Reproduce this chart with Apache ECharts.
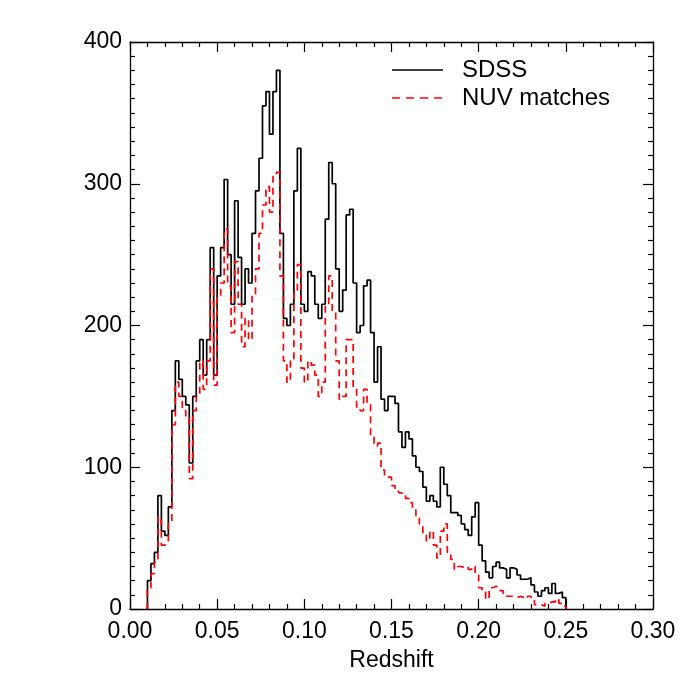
<!DOCTYPE html>
<html>
<head>
<meta charset="utf-8">
<script src="https://cdn.jsdelivr.net/npm/echarts@6/dist/echarts.min.js"></script>
<style>
html,body{margin:0;padding:0;background:#fff;}
#chart{width:692px;height:692px;}
</style>
</head>
<body>
<div id="chart"></div>
<script>
// Histogram bins (redshift), bin width 0.002 starting at z = 0.010
const binStart = 0.010;
const binWidth = 0.002;

// SDSS counts per bin
const sdssCounts = [
  20, 32, 40, 80, 55, 52, 72, 140, 175, 162,
  150, 144, 103, 150, 175, 190, 165, 190, 255, 165,
  235, 255, 303, 250, 215, 288, 248, 215, 240, 230,
  265, 295, 318, 355, 365, 335, 365, 380, 265, 205,
  200, 215, 295, 325, 215,
  210, 238, 235, 215, 205, 215, 275, 315, 300, 240,
  210, 225, 278, 282, 230, 195, 200, 228, 232, 195,
  160, 185, 148, 140, 150, 150, 145, 125, 114, 125,
  120, 108, 100, 97, 86, 76, 80, 76, 72, 100,
  88, 80, 68, 68, 66, 60, 56, 52, 65, 75,
  45, 34, 26, 22, 30, 33, 29, 28, 22, 29,
  28, 24, 21, 21, 22, 17, 12, 9, 13, 15,
  11, 18, 11, 12, 8
];

// NUV match counts per bin
const nuvCounts = [
  15, 25, 33, 65, 45, 46, 62, 130, 160, 150,
  140, 135, 92, 140, 150, 175, 155, 175, 240, 158,
  220, 230, 268, 228, 195, 245, 215, 185, 205, 190,
  222, 240, 265, 285, 298, 280, 305, 308, 235, 175,
  160, 175, 225, 243, 170,
  160, 175, 172, 165, 150, 160, 215, 235, 210, 175,
  148, 150, 190, 190, 155, 142, 140, 155, 145, 122,
  115, 117, 98, 93, 93, 87, 85, 82, 80, 78,
  75, 70, 66, 60, 52, 48, 55, 45, 36, 55,
  60, 40, 35, 28, 30, 29, 30, 28, 30, 24,
  15, 12, 7, 15, 16, 15, 13, 11, 9, 9,
  8, 9, 8, 7, 9, 6, 3, 3, 2, 4,
  5, 5, 7, 4, 2
];

const seriesNames = ['SDSS', 'NUV matches'];
const xTicks = [0, 0.30, 0.05];
const yTicks = [0, 400, 100];
const xTitle = 'Redshift';

function histPoints(counts) {
  const pts = [[binStart, 0]];
  counts.forEach((c, i) => {
    pts.push([+(binStart + i * binWidth).toFixed(4), c]);
  });
  const endEdge = +(binStart + counts.length * binWidth).toFixed(4);
  pts.push([endEdge, counts[counts.length - 1]]);
  pts.push([endEdge, 0]);
  return pts;
}

const FONT = 'Liberation Sans, Arial, Helvetica, sans-serif';
function axisStyle(minorSplit) {
  return {
    axisLine: { show: true, onZero: false, lineStyle: { color: '#000', width: 1.3 } },
    axisTick: { show: true, inside: true, length: 10, lineStyle: { color: '#000', width: 1.2 } },
    minorTick: { show: true, splitNumber: minorSplit, length: 5, lineStyle: { color: '#000', width: 1.2 } },
    splitLine: { show: false },
    minorSplitLine: { show: false }
  };
}

const chart = echarts.init(document.getElementById('chart'), null, { renderer: 'canvas' });
chart.setOption({
  backgroundColor: '#fff',
  animation: false,
  grid: { left: 130, right: 39, top: 42, bottom: 83, containLabel: false },
  xAxis: [
    Object.assign({
      type: 'value', position: 'bottom',
      min: xTicks[0], max: xTicks[1], interval: xTicks[2],
      name: xTitle, nameLocation: 'middle', nameGap: 40,
      nameTextStyle: { color: '#000', fontSize: 23, fontFamily: FONT },
      axisLabel: { color: '#000', fontSize: 23, fontFamily: FONT, margin: 11,
        formatter: v => v.toFixed(2) }
    }, axisStyle(5)),
    Object.assign({
      type: 'value', position: 'top',
      min: xTicks[0], max: xTicks[1], interval: xTicks[2],
      axisLabel: { show: false }
    }, axisStyle(5))
  ],
  yAxis: [
    Object.assign({
      type: 'value', position: 'left',
      min: yTicks[0], max: yTicks[1], interval: yTicks[2],
      axisLabel: { color: '#000', fontSize: 23, fontFamily: FONT, margin: 8 }
    }, axisStyle(10)),
    Object.assign({
      type: 'value', position: 'right',
      min: yTicks[0], max: yTicks[1], interval: yTicks[2],
      axisLabel: { show: false }
    }, axisStyle(10))
  ],
  series: [
    {
      name: seriesNames[0], type: 'line', step: 'end',
      xAxisIndex: 0, yAxisIndex: 0,
      data: histPoints(sdssCounts),
      showSymbol: false, symbol: 'none',
      lineStyle: { color: '#000', width: 1.7 },
      z: 2
    },
    {
      name: seriesNames[1], type: 'line', step: 'end',
      xAxisIndex: 0, yAxisIndex: 0,
      data: histPoints(nuvCounts),
      showSymbol: false, symbol: 'none',
      lineStyle: { color: '#ff0000', width: 1.7, type: [7, 5] },
      z: 3
    }
  ],
  graphic: [
    { type: 'line', shape: { x1: 392, y1: 70, x2: 443, y2: 70 },
      style: { stroke: '#000', lineWidth: 1.3 } },
    { type: 'text', x: 462, y: 70,
      style: { text: seriesNames[0], fill: '#000', fontSize: 24, fontFamily: FONT, verticalAlign: 'middle' } },
    { type: 'line', shape: { x1: 392, y1: 98, x2: 443, y2: 98 },
      style: { stroke: '#ff0000', lineWidth: 1.3, lineDash: [8, 6] } },
    { type: 'text', x: 462, y: 98,
      style: { text: seriesNames[1], fill: '#000', fontSize: 24, fontFamily: FONT, verticalAlign: 'middle' } }
  ]
});
</script>
</body>
</html>
